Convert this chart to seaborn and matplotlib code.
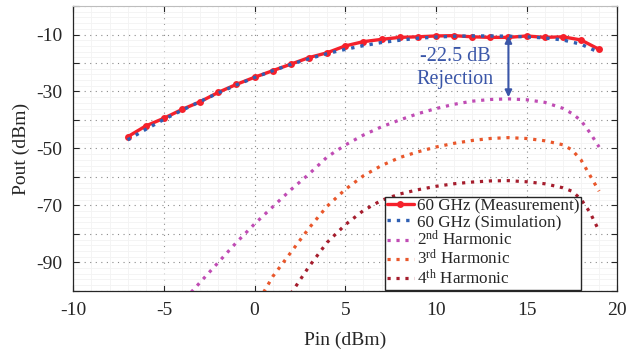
import matplotlib
matplotlib.use("Agg")
import matplotlib.pyplot as plt
import seaborn as sns
import pandas as pd

# --- data ---
pin_meas = list(range(-7, 20))
pout_meas = [-45.9, -42.1, -39.4, -36.3, -33.6, -30.3, -27.5, -25.0, -22.7, -20.4,
             -18.1, -16.4, -14.0, -12.5, -11.7, -11.0, -10.8, -10.5, -10.4, -10.8,
             -11.0, -11.0, -10.5, -11.0, -10.8, -11.9, -15.2]

pin_sim = list(range(-7, 20))
pout_sim = [-47.0, -43.3, -39.8, -36.6, -33.5, -30.5, -27.7, -25.1, -22.7, -20.5,
            -18.5, -16.7, -15.2, -13.9, -12.8, -12.0, -11.3, -10.9, -10.6, -10.5,
            -10.5, -10.6, -10.8, -11.2, -11.9, -13.4, -16.3]

pin_h2 = [-3.5, -3, -2, -1, 0, 1, 2, 3, 4, 5, 6, 7, 8, 9, 10, 11, 12, 13, 14, 15,
          16, 17, 17.5, 18, 18.5, 19]
pout_h2 = [-100.5, -97.0, -90.0, -83.0, -76.5, -70.5, -64.5, -59.0, -53.0, -48.8,
           -45.3, -42.4, -40.0, -37.8, -36.0, -34.5, -33.4, -32.8, -32.6, -32.9,
           -33.8, -35.9, -37.7, -40.2, -44.5, -49.5]

pin_h3 = [0.5, 1, 2, 3, 4, 5, 6, 7, 8, 9, 10, 11, 12, 13, 14, 15, 16, 17, 17.5,
          18, 18.5, 19]
pout_h3 = [-100.5, -95.0, -86.5, -78.0, -70.3, -64.4, -59.6, -56.0, -53.2, -51.2,
           -49.5, -48.2, -47.2, -46.5, -46.2, -46.5, -47.3, -48.7, -50.5, -54.0,
           -59.5, -65.0]

pin_h4 = [2, 3, 4, 5, 6, 7, 8, 9, 10, 11, 12, 13, 14, 15, 16, 17, 17.5, 18, 18.5, 19]
pout_h4 = [-101.0, -91.5, -83.0, -76.8, -71.8, -68.2, -66.0, -64.5, -63.3, -62.4,
           -61.8, -61.4, -61.3, -61.7, -62.4, -63.8, -65.0, -67.8, -72.5, -79.0]

labels = ["60 GHz (Measurement)", "60 GHz (Simulation)",
          r"2$^{\rm nd}$ Harmonic", r"3$^{\rm rd}$ Harmonic", r"4$^{\rm th}$ Harmonic"]

x_ticks = [-10, -5, 0, 5, 10, 15, 20]
y_ticks = [-100, -90, -80, -70, -60, -50, -40, -30, -20, -10, 0]
y_ticklabels = ["", "-90", "", "-70", "", "-50", "", "-30", "", "-10", ""]

rejection_x = 14
rejection_top = -10.5
rejection_bottom = -32.0

# --- style ---
sns.set_style("ticks")
plt.rcParams["font.family"] = ["Liberation Serif", "DejaVu Serif"]
plt.rcParams["mathtext.fontset"] = "custom"
plt.rcParams["mathtext.rm"] = "Liberation Serif"
plt.rcParams["mathtext.it"] = "Liberation Serif:italic"
plt.rcParams["axes.unicode_minus"] = False

ink = "#262626"
c_meas = "#f5212b"
c_sim = "#2f5fb3"
c_h2 = "#c04cb4"
c_h3 = "#e9572b"
c_h4 = "#a51d2d"
c_note = "#3a56a8"
dot = (0, (1, 1.8))

fig = plt.figure(figsize=(6.26, 3.56), dpi=100)
ax = fig.add_axes([0.117, 0.183, 0.869, 0.800])

sns.lineplot(x=pin_meas, y=pout_meas, ax=ax, color=c_meas, lw=2.4, marker="o",
             markersize=5, markeredgewidth=0, label=labels[0], zorder=3)
sns.lineplot(x=pin_sim, y=pout_sim, ax=ax, color=c_sim, lw=2.4, linestyle=dot,
             label=labels[1], zorder=4)
sns.lineplot(x=pin_h2, y=pout_h2, ax=ax, color=c_h2, lw=2.3, linestyle=dot,
             label=labels[2], zorder=3)
sns.lineplot(x=pin_h3, y=pout_h3, ax=ax, color=c_h3, lw=2.3, linestyle=dot,
             label=labels[3], zorder=3)
sns.lineplot(x=pin_h4, y=pout_h4, ax=ax, color=c_h4, lw=2.3, linestyle=dot,
             label=labels[4], zorder=3)

ax.set_xlim(-10, 20)
ax.set_ylim(-100, 0)
ax.set_xticks(x_ticks)
ax.set_yticks(y_ticks)
ax.set_yticklabels(y_ticklabels)
ax.set_xticks(range(-10, 21), minor=True)
ax.set_yticks(range(-100, 1, 2), minor=True)

ax.grid(which="minor", color="#f3f3f3", lw=0.6, ls="-", zorder=0)
ax.grid(which="major", color="#8a8a8a", lw=0.8, ls=(0, (1, 4)), zorder=1)

ax.tick_params(which="major", direction="in", length=4, width=0.8, colors=ink,
               labelsize=14, top=True, right=True, pad=8)
ax.tick_params(which="minor", length=0, top=True, right=True)
for side in ["left", "bottom", "right"]:
    ax.spines[side].set_color(ink)
    ax.spines[side].set_linewidth(0.9)
ax.spines["top"].set_color("#bdbdbd")
ax.spines["top"].set_linewidth(0.8)

ax.set_xlabel("Pin (dBm)", fontsize=14, color=ink, labelpad=9)
ax.set_ylabel("Pout (dBm)", fontsize=14, color=ink, labelpad=4)

# rejection arrow and note
ax.annotate("", xy=(rejection_x, rejection_top), xytext=(rejection_x, rejection_bottom),
            arrowprops=dict(arrowstyle="<|-|>", color=c_note, lw=1.5,
                            mutation_scale=10, shrinkA=0, shrinkB=0), zorder=5)
ax.text(11.05, -21.8, "-22.5 dB\nRejection", color=c_note, fontsize=14.5,
        ha="center", va="center", linespacing=1.3, zorder=5)

leg = ax.legend(loc="lower left", bbox_to_anchor=(0.573, 0.004, 0.361, 0.30),
                mode="expand", fontsize=12.3, frameon=True, fancybox=False,
                edgecolor=ink, framealpha=1, borderpad=0.1, labelspacing=0.0,
                handlelength=1.6, handletextpad=0.15, borderaxespad=0)
leg.get_frame().set_linewidth(1.0)
for t in leg.get_texts():
    t.set_color(ink)

fig.savefig("out.png", dpi=100)
